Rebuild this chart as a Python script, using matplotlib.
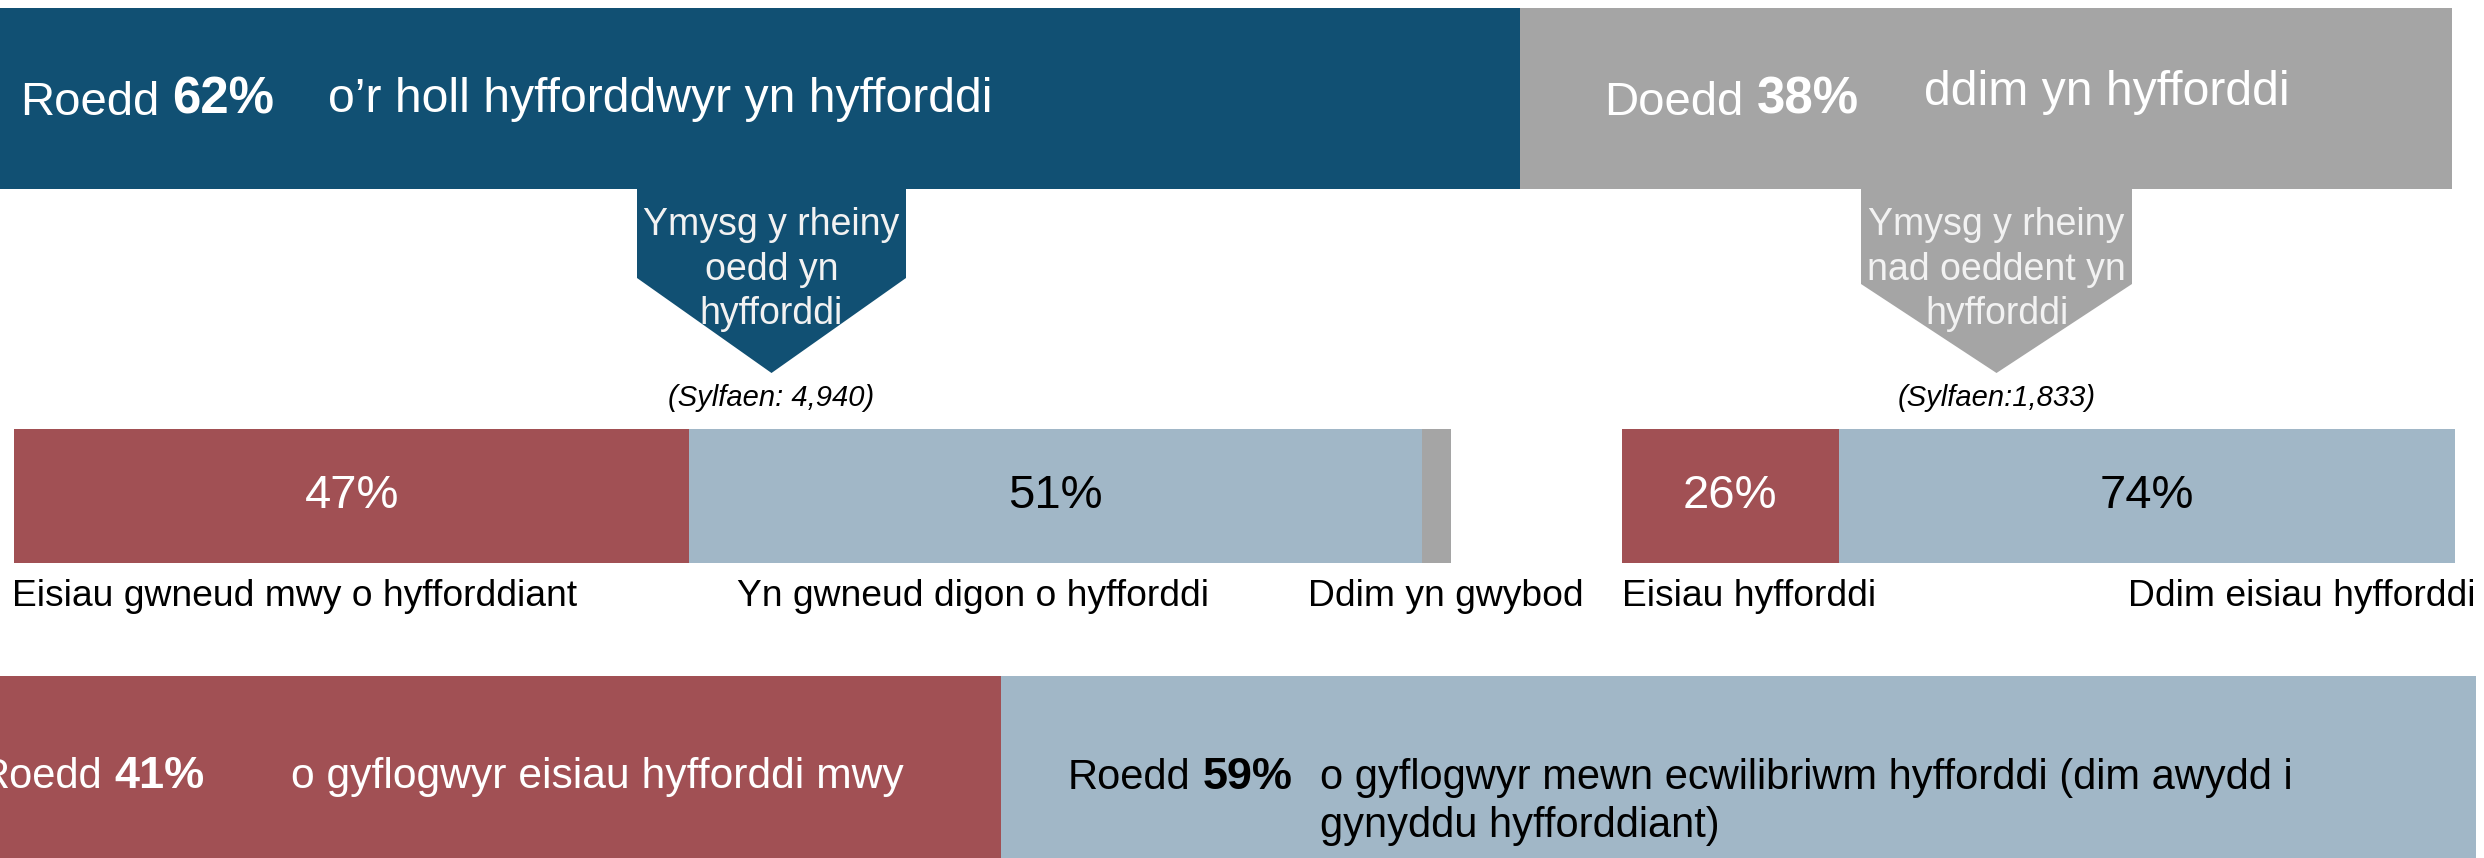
import matplotlib.pyplot as plt
from matplotlib.patches import Polygon

# --- canvas (pixel space)
W, H = 2484, 858

BLUE  = "#115073"
GREY  = "#A5A5A5"
RED   = "#A15054"
LIGHT = "#A1B7C7"
INK   = "#000000"
WHITE = "#FFFFFF"
PALE  = "#F2F2F2"

plt.rcParams["font.family"] = ["Liberation Sans", "DejaVu Sans"]

# --- data
top_leads  = ["Roedd", "Doedd"]
top_shares = [62, 38]
top_texts  = ["o’r holl hyfforddwyr yn hyfforddi", "ddim yn hyfforddi"]

arrow_texts = [["Ymysg y rheiny", "oedd yn", "hyfforddi"],
               ["Ymysg y rheiny", "nad oeddent yn", "hyfforddi"]]
bases       = ["(Sylfaen: 4,940)", "(Sylfaen:1,833)"]

trained_cats   = ["Eisiau gwneud mwy o hyfforddiant",
                  "Yn gwneud digon o hyfforddi", "Ddim yn gwybod"]
trained_shares = [47, 51, 2]

untrained_cats   = ["Eisiau hyfforddi", "Ddim eisiau hyfforddi"]
untrained_shares = [26, 74]

overall_leads  = ["Roedd", "Roedd"]
overall_shares = [41, 59]
overall_texts  = [["o gyflogwyr eisiau hyfforddi mwy"],
                  ["o gyflogwyr mewn ecwilibriwm hyfforddi (dim awydd i",
                   "gynyddu hyfforddiant)"]]


def stacked(ax, shares, colors, x0, x1, yc, height):
    """Draw one 100% stacked bar between x0 and x1, return containers."""
    scale = (x1 - x0) / 100
    left = x0
    conts = []
    for s, c in zip(shares, colors):
        conts.append(ax.barh(yc, s * scale, left=left, height=height,
                             color=c, linewidth=0))
        left += s * scale
    return conts


def lead(ax, x, y, word, pct, color, size):
    """'Roedd' regular followed by the bold percentage."""
    t = ax.text(x, y, word, color=color, fontsize=size, va="baseline")
    ax.annotate(f"{pct}%", xy=(1, 0), xycoords=t,
                xytext=(size * 0.28, 0), textcoords="offset points",
                fontsize=size * 1.08, fontweight="bold", color=color,
                ha="left", va="bottom")


def arrow(ax, xl, xr, ytop, yshoulder, ytip, color):
    xm = (xl + xr) / 2
    ax.add_patch(Polygon([(xl, ytop), (xr, ytop), (xr, yshoulder),
                          (xm, ytip), (xl, yshoulder)],
                         closed=True, facecolor=color, linewidth=0))


fig = plt.figure(figsize=(W / 100, H / 100), dpi=100, facecolor="white")
ax = fig.add_axes([0, 0, 1, 1])
ax.set_xlim(0, W)
ax.set_ylim(H, 0)
ax.axis("off")

# --- top bar
stacked(ax, top_shares, [BLUE, GREY], 0, 2452, 98.5, 181)
lead(ax, 20, 115, top_leads[0], top_shares[0], WHITE, 34)
ax.text(328, 112, top_texts[0], color=WHITE, fontsize=34.7, va="baseline")
lead(ax, 1604, 115, top_leads[1], top_shares[1], WHITE, 34)
ax.text(1924, 105, top_texts[1], color=WHITE, fontsize=34.7, va="baseline")

# --- arrows
for (xl, xr, ysh, col), lines, base in zip(
        [(637, 906, 278, BLUE), (1861, 2132, 284, GREY)], arrow_texts, bases):
    arrow(ax, xl, xr, 189, ysh, 373, col)
    xm = (xl + xr) / 2
    for yb, line in zip([235, 280, 324], lines):
        ax.text(xm, yb, line, color=PALE, fontsize=27,
                ha="center", va="baseline")
    ax.text(xm, 406, base, color=INK, fontsize=21, style="italic",
            ha="center", va="baseline")

# --- middle bars
mid_y, mid_h = 496, 134
conts = stacked(ax, trained_shares, [RED, LIGHT, GREY], 14, 1451, mid_y, mid_h)
ax.bar_label(conts[0], labels=[f"{trained_shares[0]}%"], label_type="center",
             color=WHITE, fontsize=34)
ax.bar_label(conts[1], labels=[f"{trained_shares[1]}%"], label_type="center",
             color=INK, fontsize=34)

conts = stacked(ax, untrained_shares, [RED, LIGHT], 1622, 2455, mid_y, mid_h)
ax.bar_label(conts[0], labels=[f"{untrained_shares[0]}%"], label_type="center",
             color=WHITE, fontsize=34)
ax.bar_label(conts[1], labels=[f"{untrained_shares[1]}%"], label_type="center",
             color=INK, fontsize=34)

for x, cat in zip([12, 737, 1308], trained_cats):
    ax.text(x, 606, cat, color=INK, fontsize=26.8, va="baseline")
ax.text(1622, 606, untrained_cats[0], color=INK, fontsize=26.8, va="baseline")
ax.text(2476, 606, untrained_cats[1], color=INK, fontsize=26.8,
        ha="right", va="baseline")

# --- bottom bar
stacked(ax, overall_shares, [RED, LIGHT], -24, 2476, 771, 190)
lead(ax, -20, 788, overall_leads[0], overall_shares[0], WHITE, 30)
ax.text(291, 788, overall_texts[0][0], color=WHITE, fontsize=30.7, va="baseline")
lead(ax, 1068, 789, overall_leads[1], overall_shares[1], INK, 30)
for yb, line in zip([789, 837], overall_texts[1]):
    ax.text(1320, yb, line, color=INK, fontsize=30, va="baseline")

fig.savefig("out.png", dpi=100, facecolor="white")
